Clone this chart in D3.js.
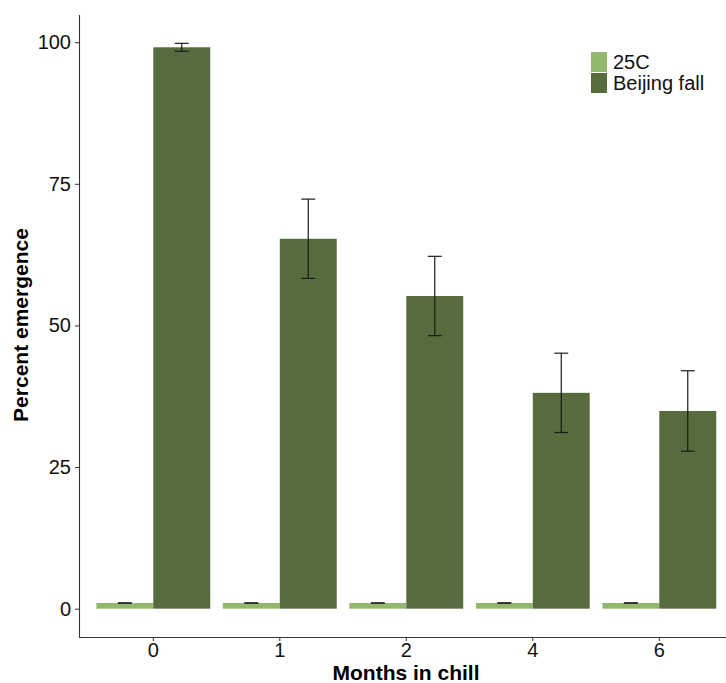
<!DOCTYPE html>
<html>
<head>
<meta charset="utf-8">
<script src="https://cdn.jsdelivr.net/npm/d3@7"></script>
<style>
body { margin: 0; background: #fff; }
text { font-family: "Liberation Sans", Arial, sans-serif; }
</style>
</head>
<body>
<div class="container"></div>
<script>
// data
const months = ["0", "1", "2", "4", "6"];
const groups = ["25C", "Beijing fall"];
const warmMean = [1, 1, 1, 1, 1];
const warmSe = [0, 0, 0, 0, 0];
const fallMean = [99.1, 65.3, 55.2, 38.1, 34.9];
const fallSe = [0.7, 7.0, 7.0, 7.0, 7.1];
const yTicks = [0, 25, 50, 75, 100];
const colors = ["#91b86d", "#566c3e"];

const w = 726;
const h = 683;
const padL = 79, padT = 15, axisY = 637;
const step = 126.5;
const x0 = 153.3;

const rows = months.map((m, i) => ({
  month: m,
  vals: [
    {g: groups[0], v: warmMean[i], se: warmSe[i]},
    {g: groups[1], v: fallMean[i], se: fallSe[i]}
  ]
}));

// Create scales
const xScale = d3.scaleBand()
  .domain(months)
  .range([x0 - step / 2, x0 - step / 2 + step * months.length])
  .paddingInner(0).paddingOuter(0);

const xSub = d3.scaleBand()
  .domain(groups)
  .range([0, step * 0.9]);

const yScale = d3.scaleLinear()
  .domain([-5, 104.8])
  .range([axisY, padT]);

// Create SVG container
const svg = d3.select(".container")
  .append("svg")
  .attr("width", w)
  .attr("height", h);

// Create bars
const grp = svg.selectAll(".grp")
  .data(rows)
  .enter()
  .append("g")
  .attr("class", "grp")
  .attr("transform", d => `translate(${xScale(d.month) + step * 0.05},0)`);

grp.selectAll("rect")
  .data(d => d.vals)
  .enter()
  .append("rect")
  .attr("x", d => xSub(d.g))
  .attr("y", d => yScale(d.v))
  .attr("width", xSub.bandwidth())
  .attr("height", d => yScale(0) - yScale(d.v))
  .attr("fill", (d, i) => colors[i]);

// error bars
const ebW = step * 0.11;
const eb = grp.selectAll(".eb")
  .data(d => d.vals)
  .enter()
  .append("g")
  .attr("class", "eb")
  .attr("stroke", "#1a1a1a")
  .attr("stroke-width", 1.2);
eb.append("line")
  .attr("x1", d => xSub(d.g) + xSub.bandwidth() / 2)
  .attr("x2", d => xSub(d.g) + xSub.bandwidth() / 2)
  .attr("y1", d => yScale(d.v + d.se))
  .attr("y2", d => yScale(d.v - d.se));
eb.append("line")
  .attr("x1", d => xSub(d.g) + xSub.bandwidth() / 2 - ebW / 2)
  .attr("x2", d => xSub(d.g) + xSub.bandwidth() / 2 + ebW / 2)
  .attr("y1", d => yScale(d.v + d.se))
  .attr("y2", d => yScale(d.v + d.se));
eb.append("line")
  .attr("x1", d => xSub(d.g) + xSub.bandwidth() / 2 - ebW / 2)
  .attr("x2", d => xSub(d.g) + xSub.bandwidth() / 2 + ebW / 2)
  .attr("y1", d => yScale(d.v - d.se))
  .attr("y2", d => yScale(d.v - d.se));

// axes
const xAxis = d3.axisBottom(xScale).tickSize(4).tickPadding(2);
const gx = svg.append("g")
  .attr("transform", `translate(0,${axisY})`)
  .call(xAxis);
gx.select(".domain").attr("d", `M${padL},0.5H${w}`);

const yAxis = d3.axisLeft(yScale).tickValues(yTicks).tickSize(4).tickPadding(4);
const gy = svg.append("g")
  .attr("transform", `translate(${padL},0)`)
  .call(yAxis);
gy.select(".domain").attr("d", `M0.5,${padT}V${axisY + 0.5}`);

svg.selectAll(".domain").attr("stroke", "#333").attr("stroke-width", 1.1);
svg.selectAll(".tick line").attr("stroke", "#333");
svg.selectAll(".tick text")
  .style("font-size", "20px")
  .attr("fill", "#111")
  .style("font-family", "Liberation Sans, Arial, sans-serif");

// axis labels
svg.append("text")
  .attr("x", 406)
  .attr("y", 680)
  .style("text-anchor", "middle")
  .style("font-size", "21px")
  .style("font-weight", "bold")
  .text("Months in chill");

svg.append("text")
  .attr("transform", "rotate(-90)")
  .attr("x", -325)
  .attr("y", 28)
  .style("text-anchor", "middle")
  .style("font-size", "21px")
  .style("font-weight", "bold")
  .text("Percent emergence");

// legend
const legend = svg.append("g").attr("transform", "translate(591,52)");
groups.forEach((g, i) => {
  legend.append("rect")
    .attr("x", 0)
    .attr("y", i * 21)
    .attr("width", 16)
    .attr("height", 20)
    .attr("fill", colors[i]);
  legend.append("text")
    .attr("x", 22)
    .attr("y", i * 21 + 17)
    .style("font-size", "20px")
    .attr("fill", "#111")
    .text(g);
});
</script>
</body>
</html>
